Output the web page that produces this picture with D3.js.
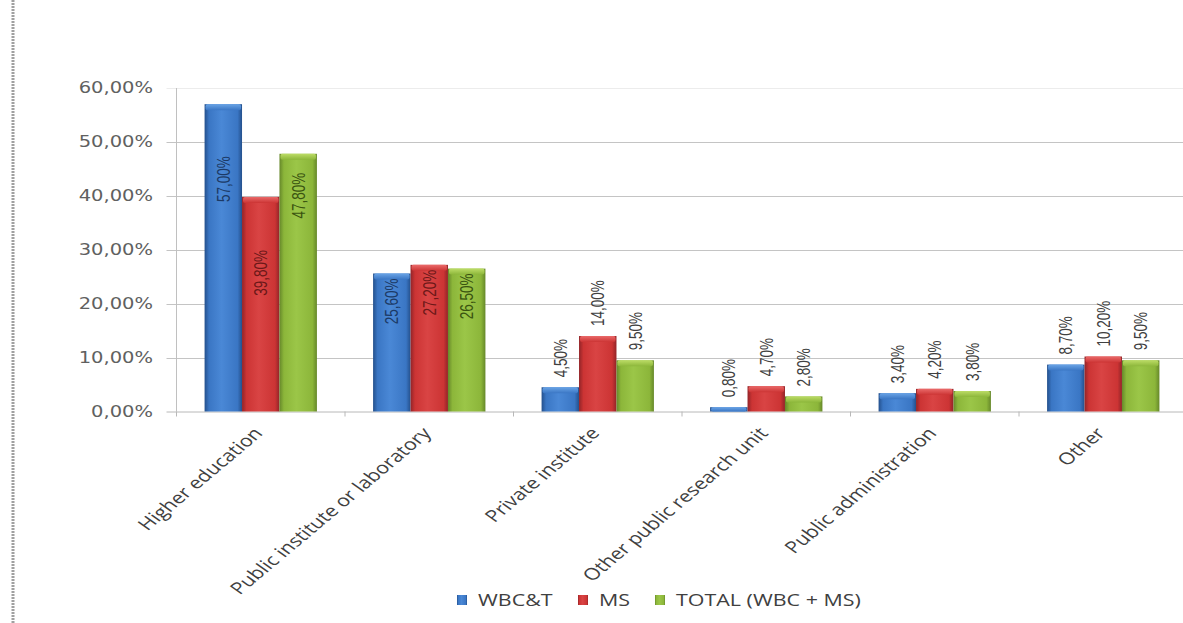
<!DOCTYPE html>
<html>
<head>
<meta charset="utf-8">
<script src="https://cdn.jsdelivr.net/npm/d3@7/dist/d3.min.js"></script>
<style>
  body { margin: 0; background: #fff; }
  svg { display: block; }
</style>
</head>
<body>
<script>
// chart data
const categories = ['Higher education', 'Public institute or laboratory', 'Private institute',
  'Other public research unit', 'Public administration', 'Other']
const seriesNames = ['WBC&T', 'MS', 'TOTAL (WBC + MS)']
const wbct = [57.0, 25.6, 4.5, 0.8, 3.4, 8.7]
const ms = [39.8, 27.2, 14.0, 4.7, 4.2, 10.2]
const total = [47.8, 26.5, 9.5, 2.8, 3.8, 9.5]
const yTicks = [0, 10, 20, 30, 40, 50, 60]

// the source picture is stretched sideways, so text is too
const SX = 1.3

const W = 1183, H = 623
const plot = { left: 176.5, top: 88, bottom: 411.5, band: 168.5 }

const colors = [
  { dark: '#24508c', base: '#3a76c4', light: '#4a88d6', cap: '#6aa4e6', text: '#1c3a66' },
  { dark: '#922428', base: '#cc3434', light: '#d94444', cap: '#ea6a6a', text: '#6c1818' },
  { dark: '#66882a', base: '#8cb63a', light: '#9bc648', cap: '#bcdc66', text: '#3a5410' }
]

// manual nudges of the labels in the first group (as in the original)
const labelNudge = { 'Higher education': [47, 48, 14] }

const loc = d3.formatLocale({ decimal: ',', thousands: '.', grouping: [3], currency: ['', ''] })
const fmt = loc.format('.2f')

const rows = categories.map((c, i) => ({ cat: c, vals: [wbct[i], ms[i], total[i]] }))

const svg = d3.select('body').append('svg')
  .attr('width', W).attr('height', H)

const defs = svg.append('defs')
colors.forEach((c, i) => {
  const g = defs.append('linearGradient').attr('id', 'bar' + i)
    .attr('x1', 0).attr('x2', 1).attr('y1', 0).attr('y2', 0)
  g.append('stop').attr('offset', 0).attr('stop-color', c.dark)
  g.append('stop').attr('offset', 0.12).attr('stop-color', c.base)
  g.append('stop').attr('offset', 0.45).attr('stop-color', c.light)
  g.append('stop').attr('offset', 0.88).attr('stop-color', c.base)
  g.append('stop').attr('offset', 1).attr('stop-color', c.dark)
  const t = defs.append('linearGradient').attr('id', 'cap' + i)
    .attr('x1', 0).attr('x2', 0).attr('y1', 0).attr('y2', 1)
  t.append('stop').attr('offset', 0).attr('stop-color', c.cap)
  t.append('stop').attr('offset', 1).attr('stop-color', c.base)
})

// dotted frame line on the left
svg.append('line')
  .attr('x1', 13).attr('x2', 13).attr('y1', 0).attr('y2', H)
  .attr('stroke', '#a0a0a0').attr('stroke-width', 3).attr('stroke-dasharray', '2,1')

const x0 = d3.scaleBand()
  .domain(categories)
  .range([plot.left, plot.left + plot.band * categories.length])

const bw = x0.bandwidth() / 4.5
const x1 = d3.scaleBand()
  .domain(d3.range(3))
  .range([0.75 * bw, 3.75 * bw])

const y = d3.scaleLinear()
  .domain([0, 60])
  .range([plot.bottom, plot.top])

// gridlines + y ticks
const grid = svg.append('g')
grid.selectAll('line').data(yTicks.filter(t => t > 0)).join('line')
  .attr('x1', plot.left - 10).attr('x2', W)
  .attr('y1', d => Math.round(y(d)) + 0.5).attr('y2', d => Math.round(y(d)) + 0.5)
  .attr('stroke', d => d === 60 ? '#ececec' : '#c4c4c4')

svg.append('g').selectAll('text').data(yTicks).join('text')
  .attr('transform', d => `translate(153, ${y(d)}) scale(${SX},1)`)
  .attr('dy', '0.36em')
  .attr('text-anchor', 'end')
  .attr('font-family', 'DejaVu Sans')
  .attr('font-size', 15)
  .attr('fill', '#606060')
  .text(d => fmt(d) + '%')

// axes lines
svg.append('line')
  .attr('x1', plot.left).attr('x2', plot.left)
  .attr('y1', plot.top).attr('y2', plot.bottom)
  .attr('stroke', '#c0c0c0')
svg.append('line')
  .attr('x1', plot.left - 10).attr('x2', W)
  .attr('y1', plot.bottom + 0.5).attr('y2', plot.bottom + 0.5)
  .attr('stroke', '#b8b8b8')
svg.append('g').selectAll('line').data(categories).join('line')
  .attr('x1', d => x0(d)).attr('x2', d => x0(d))
  .attr('y1', plot.bottom).attr('y2', plot.bottom + 5)
  .attr('stroke', '#b8b8b8')

// bars
const groups = svg.append('g').selectAll('g').data(rows).join('g')
  .attr('transform', d => `translate(${x0(d.cat)},0)`)

const bars = groups.selectAll('g').data(d => d.vals.map((v, i) => ({ v, i, cat: d.cat }))).join('g')
bars.append('rect')
  .attr('x', d => x1(d.i))
  .attr('y', d => y(d.v))
  .attr('width', x1.bandwidth())
  .attr('height', d => y(0) - y(d.v))
  .attr('fill', d => `url(#bar${d.i})`)
bars.append('rect')
  .attr('x', d => x1(d.i) + 1)
  .attr('y', d => y(d.v))
  .attr('width', x1.bandwidth() - 2)
  .attr('height', d => Math.min(6, y(0) - y(d.v)))
  .attr('rx', 2)
  .attr('fill', d => `url(#cap${d.i})`)

// value labels
bars.append('text')
  .attr('transform', d => {
    const cx = x1(d.i) + x1.bandwidth() / 2
    const inside = d.v > 20
    const nudge = labelNudge[d.cat] ? labelNudge[d.cat][d.i] : 0
    const yy = inside ? y(d.v) + 5 + nudge : y(d.v) - 10
    return `translate(${cx}, ${yy}) scale(${SX},1) rotate(-90)`
  })
  .attr('dy', '0.36em')
  .attr('text-anchor', d => d.v > 20 ? 'end' : 'start')
  .attr('font-family', 'Liberation Sans, Arial')
  .attr('font-size', 13.5)
  .attr('fill', d => d.v > 20 ? colors[d.i].text : '#404040')
  .text(d => fmt(d.v) + '%')

// category labels
svg.append('g').selectAll('text').data(categories).join('text')
  .attr('transform', d => `translate(${x0(d) + x0.bandwidth() / 2 + 3}, 434) scale(${SX},1) rotate(-47.5)`)
  .attr('text-anchor', 'end')
  .attr('font-family', 'Open Sans')
  .attr('font-size', 16.5)
  .attr('fill', '#404040')
  .text(d => d)

// legend
const legendX = [457, 578, 655]
const leg = svg.append('g').selectAll('g').data(seriesNames).join('g')
  .attr('transform', (d, i) => `translate(${legendX[i]}, 595)`)
leg.append('rect')
  .attr('width', 10).attr('height', 10)
  .attr('fill', (d, i) => `url(#bar${i})`)
leg.append('text')
  .attr('transform', `translate(21, 5) scale(${SX},1)`)
  .attr('dy', '0.36em')
  .attr('font-family', 'Open Sans')
  .attr('font-size', 16.5)
  .attr('fill', '#404040')
  .text(d => d)
</script>
</body>
</html>
